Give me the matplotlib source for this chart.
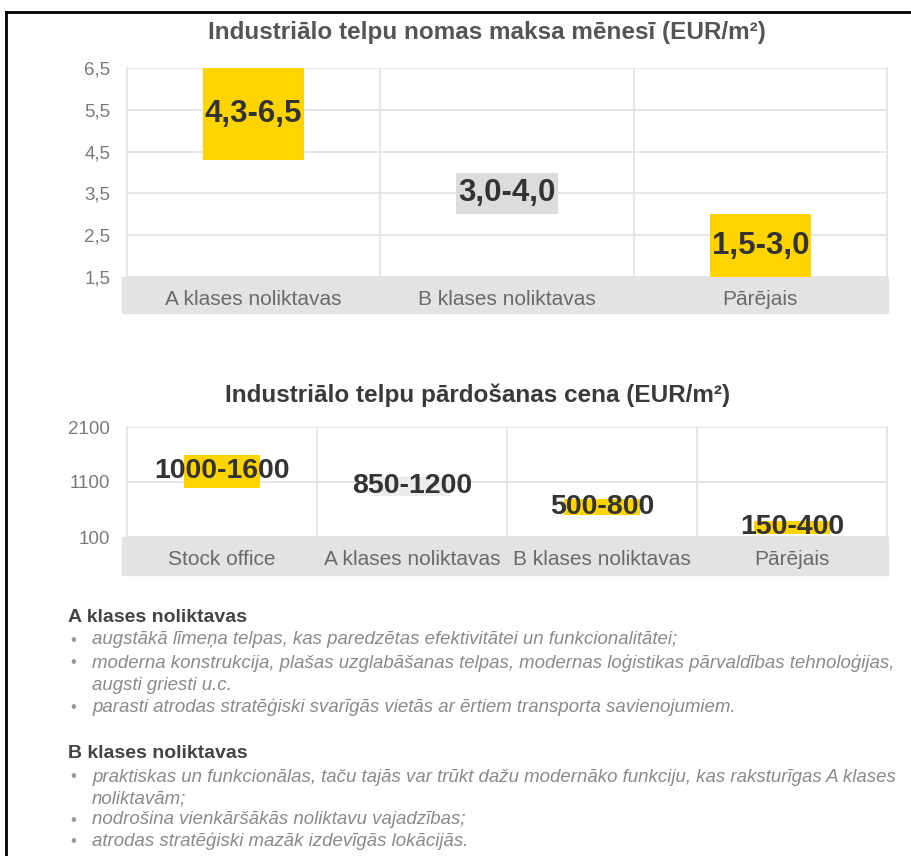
import matplotlib
matplotlib.use('Agg')
import matplotlib.pyplot as plt
from matplotlib.patches import Rectangle
from matplotlib.lines import Line2D

plt.rcParams['font.family'] = ['Liberation Sans', 'DejaVu Sans']

# --- dati ---
rent_title = 'Industriālo telpu nomas maksa mēnesī (EUR/m²)'
rent_categories = ['A klases noliktavas', 'B klases noliktavas', 'Pārējais']
rent_low = [4.3, 3.0, 1.5]
rent_high = [6.5, 4.0, 3.0]
rent_labels = ['4,3-6,5', '3,0-4,0', '1,5-3,0']
rent_ticks = [1.5, 2.5, 3.5, 4.5, 5.5, 6.5]
rent_tick_labels = ['1,5', '2,5', '3,5', '4,5', '5,5', '6,5']

sale_title = 'Industriālo telpu pārdošanas cena (EUR/m²)'
sale_categories = ['Stock office', 'A klases noliktavas', 'B klases noliktavas', 'Pārējais']
sale_low = [1000, 850, 500, 150]
sale_high = [1600, 1200, 800, 400]
sale_labels = ['1000-1600', '850-1200', '500-800', '150-400']
sale_ticks = [100, 1100, 2100]
sale_tick_labels = ['100', '1100', '2100']

notes_a_title = 'A klases noliktavas'
notes_a = [
    ['augstākā līmeņa telpas, kas paredzētas efektivitātei un funkcionalitātei;'],
    ['moderna konstrukcija, plašas uzglabāšanas telpas, modernas loģistikas pārvaldības tehnoloģijas,',
     'augsti griesti u.c.'],
    ['parasti atrodas stratēģiski svarīgās vietās ar ērtiem transporta savienojumiem.'],
]
notes_b_title = 'B klases noliktavas'
notes_b = [
    ['praktiskas un funkcionālas, taču tajās var trūkt dažu modernāko funkciju, kas raksturīgas A klases',
     'noliktavām;'],
    ['nodrošina vienkāršākās noliktavu vajadzības;'],
    ['atrodas stratēģiski mazāk izdevīgās lokācijās.'],
]

YELLOW = '#FFD400'
GREY_BAR = '#dcdcdc'
BAND = '#e3e3e3'
GRID = '#e4e4e4'

W, H = 911, 856
fig = plt.figure(figsize=(W / 100, H / 100), dpi=100)


def fx(x):
    return x / W


def fy(y):
    return 1 - y / H


def range_chart(box, band, cats, low, high, labels, colors, ticks, tick_labels, label_size):
    x0, y0, x1, y1 = box
    ax = fig.add_axes([fx(x0), fy(y1), (x1 - x0) / W, (y1 - y0) / H])
    n = len(cats)
    xs = list(range(n))
    heights = [h - l for l, h in zip(low, high)]
    ax.bar(xs, heights, bottom=low, width=0.4, color=colors, zorder=2)
    for i in xs:
        ax.text(i, (low[i] + high[i]) / 2, labels[i], ha='center', va='center',
                fontsize=label_size, fontweight='bold', color='#333333', zorder=3)
    ax.set_xlim(-0.5, n - 0.5)
    ax.set_ylim(ticks[0], ticks[-1])
    ax.set_yticks(ticks)
    ax.set_yticklabels(tick_labels)
    ax.set_xticks(xs)
    ax.set_xticklabels(cats)
    ax.grid(axis='y', color=GRID, lw=1.3, zorder=0)
    for i in range(n - 1):
        ax.axvline(i + 0.5, color=GRID, lw=1.3, zorder=0)
    for s in ['top', 'bottom']:
        ax.spines[s].set_visible(False)
    for s in ['left', 'right']:
        ax.spines[s].set_color(GRID)
        ax.spines[s].set_linewidth(1.3)
    ax.tick_params(axis='y', length=0, pad=12, labelsize=13.5, labelcolor='#7a7a7a')
    ax.tick_params(axis='x', length=0, pad=9.5, labelsize=15, labelcolor='#6a6a6a')

    bx0, by0, bx1, by1 = band
    fig.add_artist(Rectangle((fx(bx0), fy(by1)), (bx1 - bx0) / W, (by1 - by0) / H,
                             transform=fig.transFigure, color=BAND, zorder=-1))
    return ax


# --- nomas maksa ---
fig.text(fx(487), fy(33), rent_title, ha='center', va='center',
         fontsize=17.5, fontweight='bold', color='#555555')
range_chart((127, 68, 887, 277), (122, 277, 888, 313),
            rent_categories, rent_low, rent_high, rent_labels,
            [YELLOW, GREY_BAR, YELLOW], rent_ticks, rent_tick_labels, 22.5)

# --- pārdošanas cena ---
fig.text(fx(478), fy(395), sale_title, ha='center', va='center',
         fontsize=17.5, fontweight='bold', color='#3a3a3a')
range_chart((127, 427, 887, 537), (122, 537, 888, 575),
            sale_categories, sale_low, sale_high, sale_labels,
            [YELLOW, '#ececec', YELLOW, YELLOW], sale_ticks, sale_tick_labels, 20.5)


# --- paskaidrojumi ---
def notes(title, items, y, step):
    fig.text(fx(68), fy(y), title, ha='left', va='center',
             fontsize=14, fontweight='bold', color='#444444')
    y += 23
    for item in items:
        fig.text(fx(70), fy(y), '•', ha='left', va='center', fontsize=12, color='#999999')
        for line in item:
            fig.text(fx(92), fy(y), line, ha='left', va='center',
                     fontsize=13.4, fontstyle='italic', color='#8a8a8a')
            y += step


notes(notes_a_title, notes_a, 617, 22.5)
notes(notes_b_title, notes_b, 754, 21.5)

# rāmis
fig.add_artist(Line2D([fx(6), 1], [fy(12), fy(12)], transform=fig.transFigure,
                      color='black', lw=2))
fig.add_artist(Line2D([fx(6), fx(6)], [fy(12), 0], transform=fig.transFigure,
                      color='black', lw=2))

plt.savefig('out.png', dpi=100)
plt.close()
